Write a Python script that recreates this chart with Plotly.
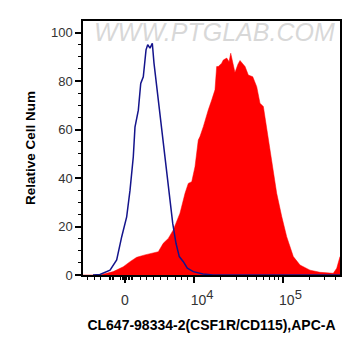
import plotly.graph_objects as go
import math

# x values are in display (biexponential) units: 10^4 -> 4, 10^5 -> 5, 0 -> ~3.216
ctrl_x = [2.854, 2.933, 3.047, 3.122, 3.179, 3.235, 3.273, 3.310, 3.329, 3.367, 3.394,
          3.423, 3.454, 3.473, 3.499, 3.525, 3.544, 3.575, 3.612, 3.649, 3.688, 3.717,
          3.756, 3.793, 3.830, 3.876, 3.921, 3.989, 4.098, 4.212, 4.6, 5.2, 5.648]
ctrl_y = [0.0, 0.2, 2.0, 6.2, 15.8, 24.0, 35.0, 48.8, 61.0, 68.0, 79.0,
          81.8, 92.9, 95.0, 93.6, 95.6, 87.4, 77.7, 65.3, 54.4, 40.6, 32.3,
          21.3, 13.1, 7.6, 5.5, 2.8, 1.4, 0.4, 0.0, 0.0, 0.0, 0.0]

sample_x = [2.741, 2.933, 3.084, 3.197, 3.273, 3.348, 3.442, 3.518, 3.593, 3.649, 3.706,
            3.762, 3.838, 3.895, 3.932, 3.971, 4.008, 4.045, 4.064, 4.102, 4.140, 4.158,
            4.197, 4.234, 4.253, 4.271, 4.310, 4.328, 4.367, 4.393, 4.412, 4.438, 4.460,
            4.494, 4.517, 4.540, 4.574, 4.611, 4.661, 4.706, 4.743, 4.781, 4.819, 4.876,
            4.932, 4.989, 5.045, 5.120, 5.196, 5.309, 5.422, 5.572, 5.611, 5.648]
sample_y = [0.0, 0.0, 1.4, 3.4, 5.5, 7.3, 8.3, 9.0, 9.6, 13.1, 15.1,
            18.6, 25.5, 33.7, 37.8, 38.5, 44.7, 55.7, 57.1, 61.2, 66.7, 68.1,
            72.2, 76.4, 86.0, 86.0, 87.4, 88.7, 89.5, 88.0, 91.5, 87.0, 83.5,
            87.0, 88.5, 87.5, 86.0, 82.5, 81.8, 77.7, 70.9, 69.5, 60.0, 46.1,
            33.7, 24.1, 15.8, 7.6, 4.1, 2.0, 1.1, 0.7, 2.8, 7.6]

x_tickvals = [3.216, 4.0, 5.0]
x_ticktext = ["0",
              "&nbsp;&nbsp;&nbsp;&nbsp;10<sup><span style='font-size:13px'>4</span></sup>",
              "&nbsp;&nbsp;&nbsp;&nbsp;10<sup><span style='font-size:13px'>5</span></sup>"]
y_tickvals = [0, 20, 40, 60, 80, 100]

def px2d(p):
    return 4 + (p - 194.3) / 88.4

minor_px = [87.3, 94, 100.7, 109.5, 110.8, 112.1, 113.4, 120.5, 122, 123.5, 126.5, 128,
            129.5, 131, 132.5, 140, 146.7, 153.3, 160, 167.3, 175, 181.7, 187.3]
x_minor = [px2d(p) for p in minor_px] + [4 + math.log10(k) for k in range(2, 10)] + \
          [5 + math.log10(k) for k in range(2, 5)]

fig = go.Figure()
fig.add_trace(go.Scatter(x=sample_x, y=sample_y, mode="lines", fill="tozeroy",
                         fillcolor="#ff0000", line=dict(color="#ff0000", width=0.5),
                         hoverinfo="skip"))
fig.add_trace(go.Scatter(x=ctrl_x, y=ctrl_y, mode="lines",
                         line=dict(color="#14148c", width=1.5), hoverinfo="skip"))

fig.update_layout(
    width=353, height=348,
    margin=dict(l=75, r=21, t=13, b=81, autoexpand=False),
    paper_bgcolor="white", plot_bgcolor="white",
    showlegend=False,
    font=dict(family="Liberation Sans, Arial, sans-serif", size=13, color="#333333"),
    xaxis=dict(range=[2.741, 5.648], tickmode="array", tickvals=x_tickvals,
               ticktext=x_ticktext, ticks="outside", ticklen=6, tickwidth=1.5,
               tickcolor="black", showgrid=False, zeroline=False,
               showline=True, linecolor="black", linewidth=1.5, mirror=True,
               ticklabelstandoff=5,
               minor=dict(tickmode="array", tickvals=x_minor, ticks="outside",
                          ticklen=3, tickcolor="black", tickwidth=1),
               tickfont=dict(size=14, color="#333333"),
               title=dict(text="<b>CL647-98334-2(CSF1R/CD115),APC-A</b>",
                          font=dict(size=14, color="black"), standoff=14)),
    yaxis=dict(range=[0, 104.8], tickmode="array", tickvals=y_tickvals,
               ticks="outside", ticklen=6, tickwidth=1.5, tickcolor="black",
               showgrid=False, zeroline=False,
               showline=True, linecolor="black", linewidth=1.5, mirror=True,
               minor=dict(dtick=5, ticks="outside", ticklen=3, tickcolor="black",
                          tickwidth=1),
               tickfont=dict(size=13, color="#333333"),
               title=dict(text="<b>Relative Cell Num</b>",
                          font=dict(size=13.5, color="black"), standoff=12)),
)

fig.add_annotation(text="<i>WWW.PTGLAB.COM</i>", xref="paper", yref="paper",
                   x=0.51, y=1.02, xanchor="center", yanchor="top", showarrow=False,
                   font=dict(size=25, color="rgba(190,190,190,0.6)",
                             family="Liberation Sans, Arial, sans-serif"))

fig.write_html("out.html")
